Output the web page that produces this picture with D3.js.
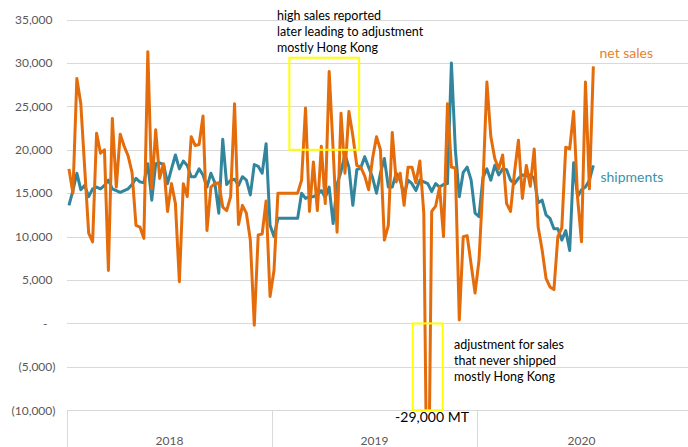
<!DOCTYPE html>
<html>
<head>
<meta charset="utf-8">
<script src="https://d3js.org/d3.v7.min.js"></script>
<style>
  html, body { margin: 0; padding: 0; background: #fff; }
  svg { display: block; font-family: Lato, "Open Sans", sans-serif; }
</style>
</head>
<body>
<svg id="chart" width="688" height="447"></svg>
<script>
// --- Data (weekly) ---
const years = ["2018", "2019", "2020"];
const weeksPerYear = [52, 52, 53];

const netSales = [
  17800, 15000, 28200, 25300, 17800, 10400, 9400, 21900, 19600, 20000,
  6100, 23600, 15700, 21800, 20400, 19300, 17400, 11300, 11100, 9800,
  31300, 15500, 22300, 16700, 18400, 12900, 16100, 13800, 4800, 16100,
  14600, 21500, 20500, 20600, 23900, 10700, 15700, 16100, 16200, 13400,
  13000, 14600, 25300, 11400, 13600, 12700, 9600, -200, 10200, 10300,
  14100, 3100, 6100, 15000, 15000, 15000, 15000, 15000, 15000, 16500,
  24800, 12900, 18600, 13000, 20400, 13800, 29000, 20000, 10500, 24200,
  17300, 24400, 21600, 18200, 18000, 17000, 15400, 19000, 21500, 20000,
  9600, 11300, 22000, 16300, 17300, 13600, 18000, 18000, 16200, 18700,
  12700, -29000, 12900, 13500, 15700, 10000, 25300, 18000, 17900, 400,
  10000, 10100, 6800, 3500, 7300, 16000, 27800, 21500, 19000, 17800,
  19400, 13800, 12900, 17400, 21100, 14400, 18200, 15800, 20100, 11100,
  8500, 5200, 4200, 3900, 10000, 11000, 20300, 20100, 24400, 14500,
  9400, 27800, 15500, 29600
];

const shipments = [
  13600, 15300, 17300, 15400, 15900, 14600, 15500, 15700, 15500, 15900,
  16500, 15500, 15300, 15100, 15300, 15500, 16000, 16700, 16300, 16200,
  18400, 14200, 18400, 18500, 18300, 16100, 17800, 19400, 17800, 18700,
  18200, 16900, 16900, 17800, 17100, 15700, 17300, 16200, 12700, 21200,
  16000, 16500, 16600, 15900, 16900, 16500, 14800, 18300, 18100, 17300,
  20700, 11300, 10000, 12100, 12100, 12100, 12100, 12100, 12100, 15000,
  14400, 14600, 14600, 14800, 15300, 14500, 15700, 11500, 16000, 17500,
  19500, 18000, 13600, 17700, 17900, 19200, 18000, 16800, 15000, 17300,
  19000, 15700, 15700, 17300, 16500, 14800, 16500, 16100, 15300, 16500,
  16300, 16100, 15200, 16100, 15700, 16000, 16100, 30000, 20000, 14600,
  17400, 18000, 16500, 12700, 12300, 16800, 17800, 16500, 18200, 17100,
  17800, 17700, 16500, 16100, 16700, 17100, 17000, 17100, 16700, 13900,
  14200, 12500, 12100, 10900, 10900, 9600, 10700, 8400, 18500, 14600,
  15400, 15700, 16500, 18200
];

const yTicks = [-10000, -5000, 0, 5000, 10000, 15000, 20000, 25000, 30000, 35000];

// annotation boxes, in chart units (week slot / value)
const boxes = [
  { x0: 56.4, x1: 74.1, y0: 20000, y1: 30600 },
  { x0: 87.7, x1: 95.3, y0: -10000, y1: 0 }
];

// --- Layout ---
const svg = d3.select("#chart");
const W = 688, H = 447;
const plot = { left: 67, right: 686, top: 19.5, bottom: 410.3 };
const totalSlots = d3.sum(weeksPerYear);

const x = d3.scaleLinear().domain([0, totalSlots]).range([plot.left, plot.right]);
const y = d3.scaleLinear().domain([-10000, 35000]).range([plot.bottom, plot.top]);

const gridColor = "#d9d9d9";
const textColor = "#595959";

// accounting-style number format: 5,000 / - / (5,000)
function acct(v) {
  if (v === 0) return "-";
  const s = d3.format(",")(Math.abs(v));
  return v < 0 ? "(" + s + ")" : s;
}

// gridlines
svg.append("g")
  .selectAll("line")
  .data(yTicks)
  .join("line")
  .attr("x1", plot.left)
  .attr("x2", W)
  .attr("y1", d => Math.round(y(d)) + 0.5)
  .attr("y2", d => Math.round(y(d)) + 0.5)
  .attr("stroke", gridColor)
  .attr("stroke-width", 1);

// y tick labels
svg.append("g")
  .selectAll("text")
  .data(yTicks)
  .join("text")
  .attr("x", d => d > 0 ? 52.5 : (d < 0 ? 55.5 : 47.5))
  .attr("y", d => y(d))
  .attr("dy", "0.35em")
  .attr("text-anchor", "end")
  .attr("font-size", 12)
  .attr("fill", textColor)
  .text(acct);

// category axis: year group dividers and labels
const bounds = [0, ...d3.cumsum(weeksPerYear)];
svg.append("g")
  .selectAll("line")
  .data(bounds.slice(0, 3))
  .join("line")
  .attr("x1", d => Math.round(x(d)) + 0.5)
  .attr("x2", d => Math.round(x(d)) + 0.5)
  .attr("y1", Math.round(plot.bottom))
  .attr("y2", H)
  .attr("stroke", gridColor)
  .attr("stroke-width", 1);

svg.append("g")
  .selectAll("text")
  .data(years)
  .join("text")
  .attr("x", (d, i) => x((bounds[i] + bounds[i + 1]) / 2))
  .attr("y", 445)
  .attr("text-anchor", "middle")
  .attr("font-size", 12)
  .attr("fill", textColor)
  .text(d => d);

// clip for the series
svg.append("clipPath")
  .attr("id", "plot-clip")
  .append("rect")
  .attr("x", plot.left)
  .attr("y", 0)
  .attr("width", W - plot.left)
  .attr("height", plot.bottom);

const line = d3.line()
  .x((d, i) => x(i + 0.5))
  .y(d => y(d));

const series = svg.append("g").attr("clip-path", "url(#plot-clip)");

series.append("path")
  .datum(shipments)
  .attr("d", line)
  .attr("fill", "none")
  .attr("stroke", "#31859c")
  .attr("stroke-width", 3)
  .attr("stroke-linejoin", "round");

series.append("path")
  .datum(netSales)
  .attr("d", line)
  .attr("fill", "none")
  .attr("stroke", "#e46c0a")
  .attr("stroke-width", 3)
  .attr("stroke-linejoin", "round");

// yellow highlight boxes
svg.append("g")
  .selectAll("rect")
  .data(boxes)
  .join("rect")
  .attr("x", d => x(d.x0))
  .attr("y", d => y(d.y1))
  .attr("width", d => x(d.x1) - x(d.x0))
  .attr("height", d => y(d.y0) - y(d.y1))
  .attr("fill", "none")
  .attr("stroke", "#ffff00")
  .attr("stroke-width", 2);

// series labels
svg.append("text")
  .attr("x", 599.5).attr("y", 58)
  .attr("font-size", 14)
  .attr("fill", "#e97f2d")
  .text("net sales");

svg.append("text")
  .attr("x", 600.5).attr("y", 182)
  .attr("font-size", 14)
  .attr("fill", "#3a93aa")
  .text("shipments");

// notes
function note(lines, x0, y0, step) {
  svg.append("g")
    .selectAll("text")
    .data(lines)
    .join("text")
    .attr("x", x0)
    .attr("y", (d, i) => y0 + i * step)
    .attr("font-size", 12.5)
    .attr("fill", "#000")
    .text(d => d);
}
note(["high sales reported", "later leading to adjustment", "mostly Hong Kong"], 277, 20, 16);
note(["adjustment for sales", "that never shipped", "mostly Hong Kong"], 454, 349, 16);

svg.append("text")
  .attr("x", 432).attr("y", 422)
  .attr("text-anchor", "middle")
  .attr("font-size", 14)
  .attr("fill", "#000")
  .text("-29,000 MT");
</script>
</body>
</html>
